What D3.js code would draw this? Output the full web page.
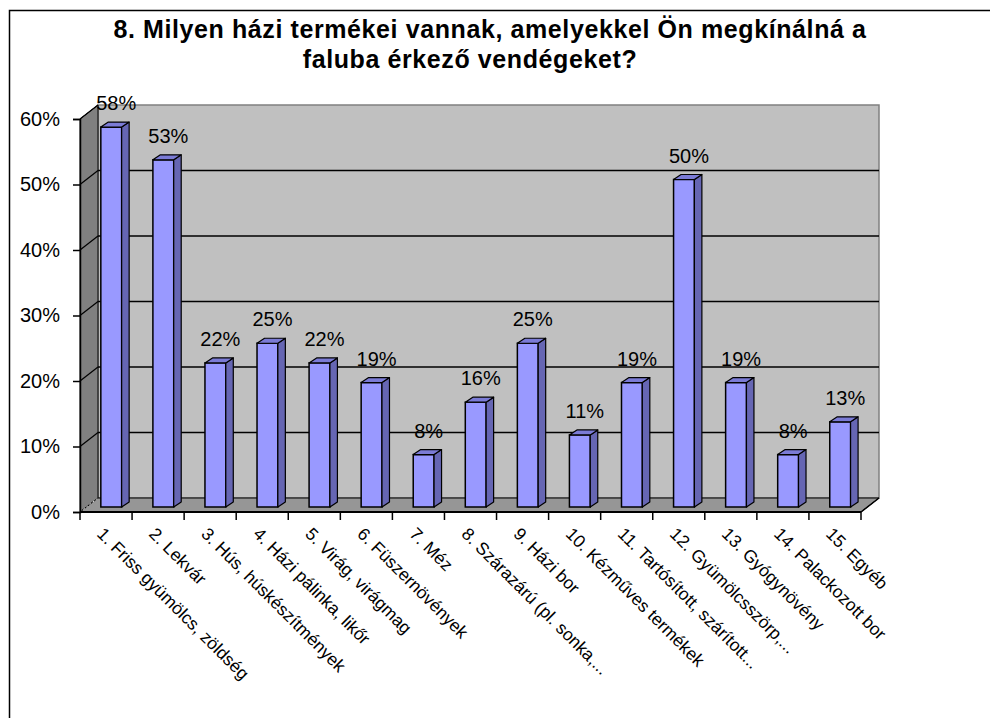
<!DOCTYPE html>
<html>
<head>
<meta charset="utf-8">
<script src="https://cdnjs.cloudflare.com/ajax/libs/d3/7.8.5/d3.min.js"></script>
<style>
  body { margin: 0; background: #fff; }
  text { font-family: "Liberation Sans", Arial, sans-serif; fill: #000; }
</style>
</head>
<body>
<svg id="myGraph" width="990" height="718"></svg>
<script>
// adatok
var categories = [
  "1. Friss gyümölcs, zöldség",
  "2. Lekvár",
  "3. Hús, húskészítmények",
  "4. Házi pálinka, likőr",
  "5. Virág, virágmag",
  "6. Füszernövények",
  "7. Méz",
  "8. Szárazárú (pl. sonka,...",
  "9. Házi bor",
  "10. Kézműves termékek",
  "11. Tartósított, szárított...",
  "12. Gyümölcsszörp,...",
  "13. Gyógynövény",
  "14. Palackozott bor",
  "15. Egyéb"
];
var values = [0.58, 0.53, 0.22, 0.25, 0.22, 0.19, 0.08, 0.16, 0.25, 0.11, 0.19, 0.50, 0.19, 0.08, 0.13];
var yTicks = [0, 0.1, 0.2, 0.3, 0.4, 0.5, 0.6];
var titleLines = ["8. Milyen házi termékei vannak, amelyekkel Ön megkínálná a", "faluba érkező vendégeket?"];

var svg = d3.select("#myGraph");

// 3D mélység (hátsó fal eltolása)
var DX = 18, DY = -14;
// oszlop mélysége
var BDX = 7.5, BDY = -5;

var xScale = d3.scaleBand()
  .domain(categories)
  .range([80, 861])
  .padding(0);

var yScale = d3.scaleLinear()
  .domain([0, 0.6])
  .range([512, 119]);

var x0 = xScale.range()[0], x1 = xScale.range()[1];
var yTop = yScale(0.6), yBot = yScale(0);

function pts(a) { return a.map(function(p){ return p.join(","); }).join(" "); }

// keret
svg.append("path")
  .attr("d", "M9.5,718 L9.5,10.5 L990,10.5")
  .attr("fill", "none")
  .attr("stroke", "#000")
  .attr("stroke-width", 1.5);

// cím
svg.append("text")
  .attr("text-anchor", "middle")
  .style("font-size", "25px")
  .style("font-weight", "bold")
  .style("letter-spacing", "0.6px")
  .selectAll("tspan")
  .data(titleLines)
  .enter()
  .append("tspan")
  .attr("x", function(d,i){ return i == 0 ? 490 : 470; })
  .attr("y", function(d,i){ return 38 + i * 30; })
  .text(function(d){ return d; });

// hátsó fal
svg.append("polygon")
  .attr("points", pts([[x0+DX, yTop+DY], [x1+DX, yTop+DY], [x1+DX, yBot+DY], [x0+DX, yBot+DY]]))
  .attr("fill", "#c0c0c0")
  .attr("stroke", "#808080")
  .attr("stroke-width", 1.5);

// oldalfal
svg.append("polygon")
  .attr("points", pts([[x0, yTop], [x0+DX, yTop+DY], [x0+DX, yBot+DY], [x0, yBot]]))
  .attr("fill", "#808080")
  .attr("stroke", "#000")
  .attr("stroke-width", 1);

// padló
svg.append("polygon")
  .attr("points", pts([[x0, yBot], [x0+DX, yBot+DY], [x1+DX, yBot+DY], [x1, yBot]]))
  .attr("fill", "#969696")
  .attr("stroke", "#000")
  .attr("stroke-width", 1);

svg.append("line")
  .attr("x1", x0).attr("y1", yBot)
  .attr("x2", x0+DX).attr("y2", yBot+DY)
  .attr("stroke", "#d0d0d0")
  .attr("stroke-dasharray", "2,2");

// rácsvonalak (hátsó fal + oldalfal)
var grid = svg.append("g");
grid.selectAll("line.back")
  .data(yTicks.slice(1, -1))
  .enter()
  .append("line")
  .attr("x1", x0+DX).attr("x2", x1+DX)
  .attr("y1", function(d){ return yScale(d)+DY; })
  .attr("y2", function(d){ return yScale(d)+DY; })
  .attr("stroke", "#000")
  .attr("stroke-width", 1.5);
grid.selectAll("line.side")
  .data(yTicks.slice(1))
  .enter()
  .append("line")
  .attr("x1", x0).attr("x2", x0+DX)
  .attr("y1", function(d){ return yScale(d); })
  .attr("y2", function(d){ return yScale(d)+DY; })
  .attr("stroke", "#000")
  .attr("stroke-width", 1.2);

// oszlopok
var bw = xScale.bandwidth() * 0.4;
var bars = svg.selectAll("g.bar")
  .data(values)
  .enter()
  .append("g");

function bx(i){ return xScale(categories[i]) + xScale.bandwidth() * 0.4; }

bars.append("rect")
  .attr("x", function(d,i){ return bx(i); })
  .attr("y", function(d){ return yScale(d) + BDY; })
  .attr("width", bw)
  .attr("height", function(d){ return yBot - yScale(d); })
  .attr("fill", "#9999ff")
  .attr("stroke", "#000")
  .attr("stroke-width", 1.5);

bars.append("polygon")
  .attr("points", function(d,i){
    var r = bx(i) + bw, t = yScale(d) + BDY, b = yBot + BDY;
    return pts([[r, t], [r+BDX, t+BDY], [r+BDX, b+BDY], [r, b]]);
  })
  .attr("fill", "#6666b3")
  .attr("stroke", "#000")
  .attr("stroke-width", 1.2)
  .attr("stroke-linejoin", "round");

bars.append("polygon")
  .attr("points", function(d,i){
    var l = bx(i), r = l + bw, t = yScale(d) + BDY;
    return pts([[l, t], [l+BDX, t+BDY], [r+BDX, t+BDY], [r, t]]);
  })
  .attr("fill", "#7b7bd6")
  .attr("stroke", "#000")
  .attr("stroke-width", 1.2)
  .attr("stroke-linejoin", "round");

// értékcímkék
bars.append("text")
  .attr("x", function(d,i){ return bx(i) + bw/2 + 5; })
  .attr("y", function(d){ return yScale(d) + BDY - 17; })
  .attr("text-anchor", "middle")
  .style("font-size", "20px")
  .text(function(d){ return Math.round(d*100) + "%"; });

// y tengely
var yAxis = svg.append("g")
  .attr("transform", "translate(" + x0 + ",0)")
  .call(d3.axisLeft(yScale).tickValues(yTicks).tickFormat(d3.format(".0%")).tickSize(7).tickPadding(13));
yAxis.select(".domain").attr("stroke", "#000").attr("stroke-width", 1.5);
yAxis.selectAll(".tick line").attr("stroke-width", 1.5);
yAxis.selectAll("text").style("font-size", "20px").style("font-family", "'Liberation Sans', Arial, sans-serif");

// x tengely
var xAxis = svg.append("g")
  .attr("transform", "translate(0," + yBot + ")");
xAxis.append("line")
  .attr("x1", x0).attr("x2", x1)
  .attr("stroke", "#000").attr("stroke-width", 2);
xAxis.selectAll("line.tick")
  .data(categories.map(function(c){ return xScale(c); }).concat([x1]))
  .enter()
  .append("line")
  .attr("x1", function(d){ return d; })
  .attr("x2", function(d){ return d; })
  .attr("y1", 0).attr("y2", 8)
  .attr("stroke", "#000").attr("stroke-width", 1.5);
svg.append("line")
  .attr("x1", x1).attr("y1", yBot)
  .attr("x2", x1+DX).attr("y2", yBot+DY)
  .attr("stroke", "#000").attr("stroke-width", 1.5);

xAxis.selectAll("text")
  .data(categories)
  .enter()
  .append("text")
  .attr("transform", function(d){
    return "translate(" + (xScale(d) + xScale.bandwidth()/2 - 10) + ",23) rotate(45)";
  })
  .style("font-size", "17.5px")
  .text(function(d){ return d; });
</script>
</body>
</html>
